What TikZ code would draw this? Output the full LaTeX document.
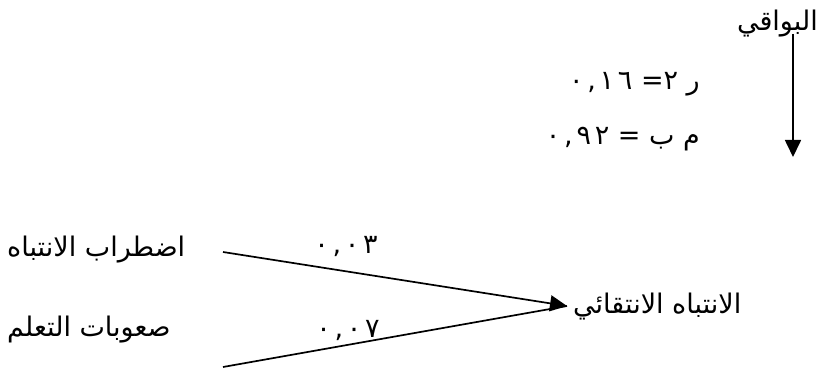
\documentclass[tikz,border=0pt]{standalone}
\usepackage{fontspec}
\usetikzlibrary{arrows.meta}
\newfontfamily\arabicfont[Script=Arabic]{DejaVu Sans}
\newfontfamily\arabicnum[Script=Arabic,LetterSpace=14]{DejaVu Sans}
\TeXXeTstate=1
\begin{document}
\begin{tikzpicture}[x=1pt,y=-1pt,
  lbl/.style={inner sep=0pt,font=\arabicfont\fontsize{27}{30}\selectfont},
  num/.style={inner sep=0pt,font=\arabicnum\fontsize{27}{30}\selectfont},
  conn/.style={line width=1.7pt,-{Triangle[length=17pt,width=16pt]}},
  plain/.style={line width=1.7pt}]
\useasboundingbox (0,0) rectangle (822,371);
% residuals
\node[lbl,anchor=east] (res) at (818,24) {\beginR البواقي\endR};
\coordinate (restop) at (793,34);
\coordinate (resend) at (793,157);
\draw[conn] (restop) -- (resend);
\node[lbl,anchor=east] (r2) at (700,84) {\beginR\hbox{ر} \hbox{٢}\hbox{=} \hbox{\arabicnum ٠,١٦}\endR};
\node[lbl,anchor=east] (mb) at (700,139) {\beginR\hbox{م} \hbox{ب} \hbox{=} \hbox{\arabicnum ٠,٩٢}\endR};
% predictors
\node[lbl,anchor=west] (p1) at (7,250) {\beginR اضطراب الانتباه\endR};
\node[lbl,anchor=west] (p2) at (7,330) {\beginR صعوبات التعلم\endR};
\node[lbl,anchor=west] (t) at (573,307) {\beginR الانتباه الانتقائي\endR};
\coordinate (s1) at (223,252);
\coordinate (s2) at (223,367);
\coordinate (tip) at (567,306);
\draw[plain] (s2) -- (tip);
\draw[conn] (s1) -- (tip);
\node[num] (c1) at (346,247) {٠,٠٣};
\node[num] (c2) at (348,330) {٠,٠٧};
\end{tikzpicture}
\end{document}
